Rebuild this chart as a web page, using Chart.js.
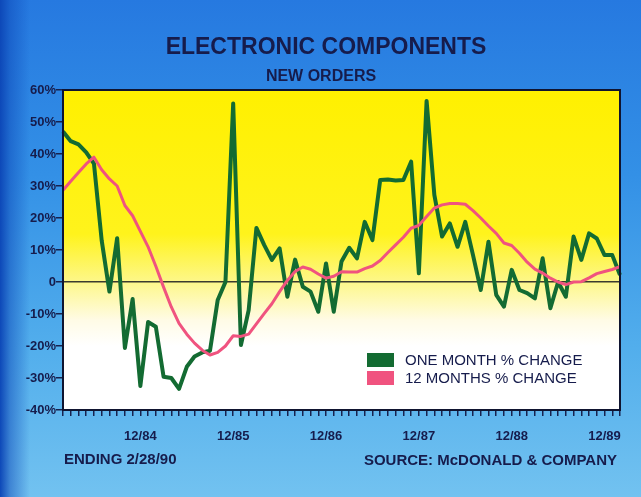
<!DOCTYPE html>
<html>
<head>
<meta charset="utf-8">
<script src="https://cdn.jsdelivr.net/npm/chart.js@4.4.1/dist/chart.umd.min.js"></script>
<style>
html,body{margin:0;padding:0;}
body{
width:641px;height:497px;overflow:hidden;
background:
linear-gradient(90deg,#0d48b8 0px,rgba(13,72,184,0.5) 10px,rgba(13,72,184,0) 30px),
linear-gradient(180deg,#2679e0 0%,#3390e6 35%,#52aeec 70%,#72c2f0 100%);
}
#wrap{position:relative;width:641px;height:497px;}
</style>
</head>
<body>
<div id="wrap"><canvas id="chart" width="641" height="497"></canvas></div>
<script>
// months, 2/84 .. 2/90
const months = [
'2/84','3/84','4/84','5/84','6/84','7/84','8/84','9/84','10/84','11/84','12/84',
'1/85','2/85','3/85','4/85','5/85','6/85','7/85','8/85','9/85','10/85','11/85','12/85',
'1/86','2/86','3/86','4/86','5/86','6/86','7/86','8/86','9/86','10/86','11/86','12/86',
'1/87','2/87','3/87','4/87','5/87','6/87','7/87','8/87','9/87','10/87','11/87','12/87',
'1/88','2/88','3/88','4/88','5/88','6/88','7/88','8/88','9/88','10/88','11/88','12/88',
'1/89','2/89','3/89','4/89','5/89','6/89','7/89','8/89','9/89','10/89','11/89','12/89',
'1/90','2/90'
];

// one month % change
const oneMonth = [
47,44,43,40.5,37,13,-3,13.7,-20.6,-5.3,
-32.5,-12.5,-14,-29.6,-30,-33.4,-26.5,-23.3,-22,-21.5,
-5.6,0,55.8,-19.7,-8.8,16.9,11.6,6.9,10.5,-4.6,
7,-1.5,-3,-9.3,5.8,-9.3,6.4,10.7,7.4,18.8,
13.1,31.9,32,31.7,31.9,37.6,2.7,56.6,27.2,14.2,
18.3,11,18.8,8.4,-2.5,12.6,-4,-7.7,3.8,-2.5,
-3.5,-5.1,7.4,-8.2,0,-4.6,14.2,6.9,15.2,13.6,
8.4,8.4,2.2
];

// 12 months % change
const twelveMonths = [
28.7,31.5,34.2,36.9,39,35.1,32.2,30,23.9,20.7,
15.8,11,4.9,-1.6,-7.8,-12.9,-16.3,-19.1,-21.3,-22.8,
-22,-20,-16.8,-17,-16.3,-13.1,-9.9,-6.8,-3,0.5,
3.3,4.7,4,2.5,1.2,1.8,3.2,3.1,3.1,4.2,
5,6.7,9.2,11.6,14,16.8,17.7,20.5,23.1,24.1,
24.5,24.5,24.3,22.3,20,17.5,15.2,12.2,11.4,9,
6.2,4,2.8,1.2,0,-0.8,0,0.1,1.3,2.6,
3.3,3.9,4.8
];

const seriesNames = ['ONE MONTH % CHANGE','12 MONTHS % CHANGE'];
const yTicks = {min:-40,max:60,step:10};

const navy = '#161c4c';
const font = '"Liberation Sans", Arial, sans-serif';

const decor = {
id:'decor',
beforeDraw(chart){
const {ctx,chartArea:a} = chart;
const g = ctx.createLinearGradient(0,a.top,0,a.bottom);
g.addColorStop(0,'#fff000');
g.addColorStop(0.45,'#fff31c');
g.addColorStop(0.6,'#fdf78a');
g.addColorStop(0.72,'#fffbe6');
g.addColorStop(0.8,'#ffffff');
g.addColorStop(1,'#ffffff');
ctx.save();
ctx.fillStyle=g;
ctx.fillRect(a.left,a.top,a.right-a.left,a.bottom-a.top);
ctx.restore();
},
afterDraw(chart){
const {ctx,chartArea:a} = chart;
ctx.save();
ctx.strokeStyle='#0f1430';
ctx.lineWidth=2;
ctx.strokeRect(a.left,a.top,a.right-a.left,a.bottom-a.top);

// titles
ctx.fillStyle=navy;
ctx.textAlign='center';
ctx.textBaseline='middle';
ctx.font='bold 23px '+font;
ctx.fillText('ELECTRONIC COMPONENTS',326,48);
ctx.font='bold 16px '+font;
ctx.fillText('NEW ORDERS',321,77);

// footer
ctx.font='bold 15px '+font;
ctx.textAlign='left';
ctx.fillText('ENDING 2/28/90',64,460);
ctx.textAlign='right';
ctx.fillText('SOURCE: McDONALD & COMPANY',617,461);

// legend inside plot
ctx.textAlign='left';
ctx.font='15px '+font;
chart.data.datasets.forEach((ds,i)=>{
const y = 353+i*18;
ctx.fillStyle=ds.borderColor;
ctx.fillRect(a.left+304,y,27,14);
ctx.fillStyle=navy;
ctx.fillText(ds.label,a.left+342,y+8);
});
ctx.restore();
}
};

new Chart(document.getElementById('chart'),{
type:'line',
data:{
labels:months,
datasets:[
{label:seriesNames[0],data:oneMonth,borderColor:'#136b32',borderWidth:4,pointRadius:0,tension:0,borderJoinStyle:'round',order:2},
{label:seriesNames[1],data:twelveMonths,borderColor:'#f0537f',borderWidth:3,pointRadius:0,tension:0,borderJoinStyle:'round',order:1}
]
},
options:{
responsive:false,
animation:false,
devicePixelRatio:1,
layout:{padding:{left:0,right:21,top:90,bottom:0}},
plugins:{legend:{display:false},tooltip:{enabled:false}},
scales:{
x:{
offset:false,
afterFit(s){s.height=87;},
border:{display:false},
grid:{drawOnChartArea:false,drawTicks:true,tickLength:6,tickColor:'#17224f',lineWidth:1.5},
ticks:{
autoSkip:false,maxRotation:0,padding:13,color:navy,
font:{family:font,size:13,weight:'bold'},
callback(v){const l=this.getLabelForValue(v);return l.startsWith('12/')?l:'';}
}
},
y:{
min:yTicks.min,max:yTicks.max,
afterFit(s){s.width=63;},
border:{display:false},
grid:{
drawTicks:true,tickLength:7,tickColor:'#17224f',lineWidth:1.5,
color(c){return c.tick && c.tick.value===0?'#3b3b2e':'rgba(0,0,0,0)';}
},
ticks:{
stepSize:yTicks.step,padding:0,color:navy,
font:{family:font,size:13,weight:'bold'},
callback(v){return v===0?'0':v+'%';}
}
}
}
},
plugins:[decor]
});
</script>
</body>
</html>
